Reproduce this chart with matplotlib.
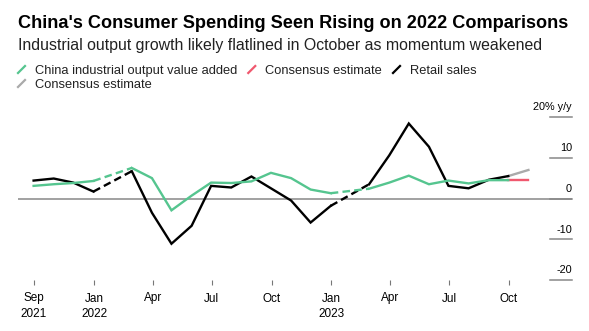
import numpy as np
import pandas as pd
import matplotlib.pyplot as plt
import matplotlib.transforms as mtransforms
from matplotlib.lines import Line2D

plt.rcParams['font.family'] = ['Liberation Sans', 'DejaVu Sans']

# monthly data, Sep 2021 - Sep 2023 (Jan is published together with Feb -> blank)
months = pd.date_range('2021-09-30', '2023-10-31', freq='ME')
industrial = [3.1, 3.5, 3.8, 4.3, np.nan, 7.5, 5.0, -2.9, 0.7, 3.9, 3.8, 4.2, 6.3,
              5.0, 2.2, 1.3, np.nan, 2.4, 3.9, 5.6, 3.5, 4.4, 3.7, 4.5, 4.5]
retail = [4.4, 4.9, 3.9, 1.7, np.nan, 6.7, -3.5, -11.1, -6.7, 3.1, 2.7, 5.4, 2.5,
          -0.5, -5.9, -1.8, np.nan, 3.5, 10.6, 18.4, 12.7, 3.1, 2.5, 4.6, 5.5]
# October 2023 consensus
industrial_est = 4.5
retail_est = 7.0

legend_labels = ['China industrial output value added', 'Consensus estimate',
                 'Retail sales', 'Consensus estimate']
legend_colors = ['#55c58f', '#f0586e', '#000000', '#aaaaaa']

tick_dates = ['2021-09-30', '2022-01-01', '2022-04-01', '2022-07-01', '2022-10-01',
              '2023-01-01', '2023-04-01', '2023-07-01', '2023-10-01']
tick_labels = ['Sep\n2021', 'Jan\n2022', 'Apr', 'Jul', 'Oct', 'Jan\n2023', 'Apr', 'Jul', 'Oct']
y_ticks = [20, 10, 0, -10, -20]
y_labels = ['20% y/y', '10', '0', '-10', '-20']

W, H = 589, 331
fig = plt.figure(figsize=(W / 100, H / 100), dpi=100)
ax = fig.add_axes([18 / W, (H - 280) / H, 554 / W, (280 - 108.85) / H])


def draw_series(values, estimate, color, est_color):
    x = months[:len(values)]
    v = np.array(values, dtype=float)
    ax.plot(x, v, color=color, lw=1.7, solid_joinstyle='miter', zorder=3)
    # dashed bridge over missing January
    for i in np.where(np.isnan(v))[0]:
        ax.plot([x[i - 1], x[i + 1]], [v[i - 1], v[i + 1]], color=color, lw=1.7,
                dashes=(3.2, 1.8), zorder=3)
    ax.plot(months[len(values) - 1:], [v[-1], estimate], color=est_color, lw=1.7, zorder=2)


draw_series(retail, retail_est, legend_colors[2], legend_colors[3])
draw_series(industrial, industrial_est, legend_colors[0], legend_colors[1])

ax.axhline(0, color='#888888', lw=1.1, zorder=1)
ax.set_ylim(-20, 22)
ax.set_xlim(pd.Timestamp('2021-09-06'), pd.Timestamp('2024-01-06'))
for s in ax.spines.values():
    s.set_visible(False)
ax.set_yticks([])
ax.set_xticks(pd.to_datetime(tick_dates))
ax.set_xticklabels(tick_labels, fontsize=8.5, linespacing=1.4)
ax.tick_params(axis='x', length=3.5, width=0.8, color='#777777', pad=5.5)

trans = mtransforms.blended_transform_factory(ax.transAxes, ax.transData)
for val, lab in zip(y_ticks, y_labels):
    ax.plot([0.9603, 1.0], [val, val], transform=trans, color='#888888', lw=1.1,
            clip_on=False)
    ax.annotate(lab, (1.0, val), xycoords=trans, xytext=(0, 4.8),
                textcoords='offset points', ha='right', va='baseline', fontsize=7.8)

fig.text(18 / W, 1 - 28.3 / H, "China's Consumer Spending Seen Rising on 2022 Comparisons",
         fontsize=13.05, fontweight='bold', va='baseline')
fig.text(18 / W, 1 - 50 / H, 'Industrial output growth likely flatlined in October as momentum weakened',
         fontsize=11.4, color='#222222', va='baseline')

# legend: slash markers flowing left to right
fig.canvas.draw()
renderer = fig.canvas.get_renderer()
rows = [(74, [0, 1, 2]), (88, [3])]
for base, idx in rows:
    x = 18
    for i in idx:
        fig.add_artist(Line2D([x / W, (x + 7) / W], [1 - (base - 1) / H, 1 - (base - 8) / H],
                              color=legend_colors[i], lw=1.6, transform=fig.transFigure))
        t = fig.text((x + 17) / W, 1 - base / H, legend_labels[i], fontsize=9.3,
                     color='#222222', va='baseline')
        bb = t.get_window_extent(renderer)
        x = bb.x1 + 11

fig.savefig('out.png', dpi=100)
